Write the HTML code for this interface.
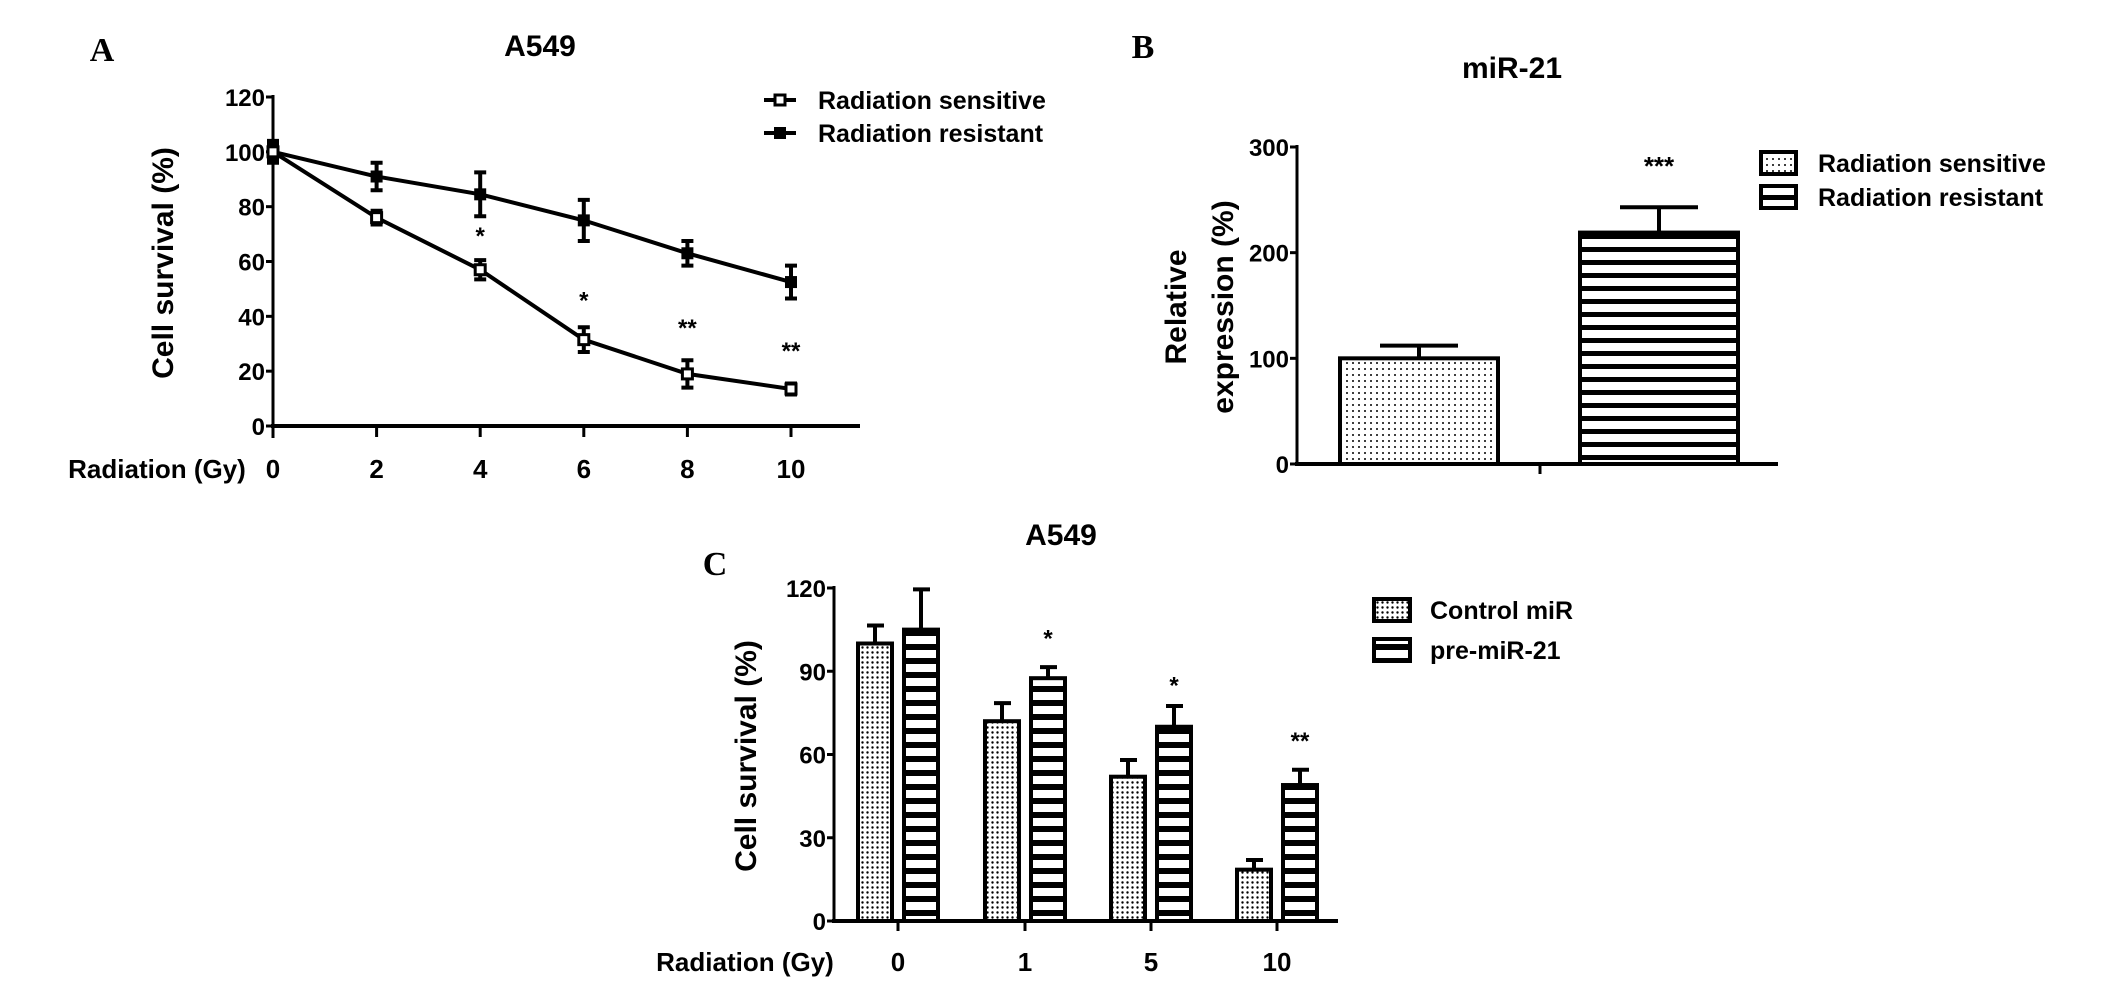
<!DOCTYPE html>
<html><head><meta charset="utf-8"><style>
html,body{margin:0;padding:0;background:#fff;}
svg{display:block;}
text{font-family:"Liberation Sans",sans-serif;font-weight:bold;fill:#000;}
.letter{font-family:"Liberation Serif",serif;font-size:34px;}
</style></head><body>
<svg id="fig" width="2126" height="1006" viewBox="0 0 2126 1006" xmlns="http://www.w3.org/2000/svg">
<defs>
<pattern id="dots" width="6" height="6" patternUnits="userSpaceOnUse"><rect width="6" height="6" fill="#fff"/><circle cx="3" cy="3" r="1" fill="#000"/></pattern>
<pattern id="dots2" width="5" height="5" patternUnits="userSpaceOnUse"><rect width="5" height="5" fill="#fff"/><circle cx="2.5" cy="2.5" r="1.2" fill="#000"/></pattern>
<pattern id="stripes" width="10" height="13" patternUnits="userSpaceOnUse"><rect width="10" height="13" fill="#fff"/><rect y="0" width="10" height="5" fill="#000"/></pattern>
<pattern id="stripes2" width="10" height="14" patternUnits="userSpaceOnUse"><rect width="10" height="14" fill="#fff"/><rect y="0" width="10" height="6" fill="#000"/></pattern>
</defs>
<g id="pa"></g>
<g id="pb"></g>
<g id="pc"></g>
</svg>
<script>
// Panel A data
const aDoses = [0, 2, 4, 6, 8, 10];
const aSensitive = [100, 76, 57, 31.5, 19, 13.5];
const aSensitiveErr = [3, 2.5, 3.5, 4.5, 5, 2];
const aResistant = [100, 91, 84.5, 75, 63, 52.5];
const aResistantErr = [4, 5, 8, 7.5, 4.5, 6];
const aStars = ["", "", "*", "*", "**", "**"];
const aStarY = [0, 0, 71.5, 48, 38, 29.5];
const aYTicks = [0, 20, 40, 60, 80, 100, 120];
// Panel B data
const bGroups = ["Radiation sensitive", "Radiation resistant"];
const bValues = [100, 219];
const bErr = [12, 24];
const bYTicks = [0, 100, 200, 300];
// Panel C data
const cDoses = ["0", "1", "5", "10"];
const cControl = [100, 72, 52, 18.5];
const cControlErr = [6.5, 6.5, 6, 3.5];
const cPre = [105, 87.5, 70, 49];
const cPreErr = [14.5, 4, 7.5, 5.5];
const cStars = ["", "*", "*", "**"];
const cStarY = [0, 104, 87, 67];
const cYTicks = [0, 30, 60, 90, 120];

const NS = "http://www.w3.org/2000/svg";
function mk(parent, tag, attrs, txt){
  const e = document.createElementNS(NS, tag);
  for (const k in attrs) e.setAttribute(k, attrs[k]);
  if (txt !== undefined) e.textContent = txt;
  parent.appendChild(e);
  return e;
}
const SW = 4;

// ---------- Panel A ----------
(function(){
  const g = document.getElementById('pa');
  const x0 = 273, yTop = 97, yBot = 426;
  const xs = d => x0 + d * 51.8;
  const ys = v => yBot - (v / 120) * (yBot - yTop);
  let t = mk(g, 'text', {x: 102, y: 61, 'text-anchor': 'middle', class: 'letter'}, 'A');
   
  t = mk(g, 'text', {x: 540, y: 56, 'text-anchor': 'middle', 'font-size': 30}, 'A549');
   
  let ax = mk(g, 'line', {x1: x0, y1: yTop - 2, x2: x0, y2: yBot + 12, stroke: '#000', 'stroke-width': 3});
   
  ax = mk(g, 'line', {x1: x0 - 2, y1: yBot, x2: 860, y2: yBot, stroke: '#000', 'stroke-width': 4});
   
  aYTicks.forEach(v => {
    mk(g, 'line', {x1: x0 - 7, y1: ys(v), x2: x0, y2: ys(v), stroke: '#000', 'stroke-width': 3});
    const l = mk(g, 'text', {x: x0 - 8, y: ys(v) + 9, 'text-anchor': 'end', 'font-size': 24}, v);
     
  });
  aDoses.forEach(d => {
    mk(g, 'line', {x1: xs(d), y1: yBot, x2: xs(d), y2: yBot + 11, stroke: '#000', 'stroke-width': 3});
    const l = mk(g, 'text', {x: xs(d), y: 478, 'text-anchor': 'middle', 'font-size': 26}, d);
     
  });
  t = mk(g, 'text', {x: 157, y: 478, 'text-anchor': 'middle', 'font-size': 26}, 'Radiation (Gy)');
   
  t = mk(g, 'text', {x: 0, y: 0, 'text-anchor': 'middle', 'font-size': 30, transform: 'translate(173,263) rotate(-90)'}, 'Cell survival (%)');
   
  function series(vals, errs, open, name){
    const s = mk(g, 'g', {});
     
    mk(s, 'polyline', {points: vals.map((v, i) => xs(aDoses[i]) + ',' + ys(v)).join(' '), fill: 'none', stroke: '#000', 'stroke-width': SW});
    vals.forEach((v, i) => {
      const x = xs(aDoses[i]);
      const e = mk(s, 'path', {d: `M${x},${ys(v + errs[i])}V${ys(v - errs[i])}M${x - 6},${ys(v + errs[i])}H${x + 6}M${x - 6},${ys(v - errs[i])}H${x + 6}`, stroke: '#000', 'stroke-width': 4, fill: 'none'});
       
      const m = mk(s, 'rect', open ? {x: x - 5, y: ys(v) - 5, width: 10, height: 10, fill: '#fff', stroke: '#000', 'stroke-width': 3} : {x: x - 6, y: ys(v) - 6, width: 12, height: 12, fill: '#000'});
       
    });
  }
  series(aResistant, aResistantErr, false, 'resistant-series');
  series(aSensitive, aSensitiveErr, true, 'sensitive-series');
  aStars.forEach((s, i) => {
    if (!s) return;
    const l = mk(g, 'text', {x: xs(aDoses[i]), y: ys(aStarY[i]) + 14, 'text-anchor': 'middle', 'font-size': 24}, s);
     
  });
  const lg = mk(g, 'g', {});
   
  mk(lg, 'line', {x1: 764, y1: 100, x2: 796, y2: 100, stroke: '#000', 'stroke-width': 4});
  mk(lg, 'rect', {x: 775, y: 95, width: 10, height: 10, fill: '#fff', stroke: '#000', 'stroke-width': 3});
  mk(lg, 'text', {x: 818, y: 109, 'font-size': 25}, 'Radiation sensitive');
  mk(lg, 'line', {x1: 764, y1: 133, x2: 796, y2: 133, stroke: '#000', 'stroke-width': 4});
  mk(lg, 'rect', {x: 774, y: 127, width: 12, height: 12, fill: '#000'});
  mk(lg, 'text', {x: 818, y: 142, 'font-size': 25}, 'Radiation resistant');
})();

// ---------- Panel B ----------
(function(){
  const g = document.getElementById('pb');
  const x0 = 1297, yTop = 147, yBot = 464;
  const ys = v => yBot - (v / 300) * (yBot - yTop);
  const bx = [1340, 1580], bw = 158;
  const fills = ['url(#dots)', 'url(#stripes)'];
  let t = mk(g, 'text', {x: 1143, y: 58, 'text-anchor': 'middle', class: 'letter'}, 'B');
   
  t = mk(g, 'text', {x: 1512, y: 78, 'text-anchor': 'middle', 'font-size': 30}, 'miR-21');
   
  bValues.forEach((v, i) => {
    const r = mk(g, 'rect', {x: bx[i], y: ys(v), width: bw, height: yBot - ys(v), fill: fills[i], stroke: '#000', 'stroke-width': 4});
     
    const cx = bx[i] + bw / 2;
    const e = mk(g, 'path', {d: `M${cx},${ys(v)}V${ys(v + bErr[i])}M${cx - 39},${ys(v + bErr[i])}H${cx + 39}`, stroke: '#000', 'stroke-width': 4, fill: 'none'});
     
  });
  t = mk(g, 'text', {x: 1659, y: 175, 'text-anchor': 'middle', 'font-size': 26}, '***');
   
  let ax = mk(g, 'line', {x1: x0, y1: yTop - 2, x2: x0, y2: yBot, stroke: '#000', 'stroke-width': 3});
   
  ax = mk(g, 'line', {x1: x0 - 2, y1: yBot, x2: 1778, y2: yBot, stroke: '#000', 'stroke-width': 4});
   
  mk(g, 'line', {x1: 1540, y1: yBot, x2: 1540, y2: 474, stroke: '#000', 'stroke-width': 3});
  bYTicks.forEach(v => {
    mk(g, 'line', {x1: x0 - 7, y1: ys(v), x2: x0, y2: ys(v), stroke: '#000', 'stroke-width': 3});
    const l = mk(g, 'text', {x: x0 - 8, y: ys(v) + 9, 'text-anchor': 'end', 'font-size': 24}, v);
     
  });
  t = mk(g, 'text', {x: 0, y: 0, 'text-anchor': 'middle', 'font-size': 30, transform: 'translate(1186,307) rotate(-90)'}, 'Relative');
   
  t = mk(g, 'text', {x: 0, y: 0, 'text-anchor': 'middle', 'font-size': 30, transform: 'translate(1233,307) rotate(-90)'}, 'expression (%)');
   
  const lg = mk(g, 'g', {});
   
  bGroups.forEach((name, i) => {
    const y = 152 + i * 34;
    mk(lg, 'rect', {x: 1761, y: y, width: 35, height: 22, fill: fills[i], stroke: '#000', 'stroke-width': 4});
    mk(lg, 'text', {x: 1818, y: y + 20, 'font-size': 25}, name);
  });
})();

// ---------- Panel C ----------
(function(){
  const g = document.getElementById('pc');
  const x0 = 834, yTop = 588, yBot = 921;
  const ys = v => yBot - (v / 120) * (yBot - yTop);
  const gx = [898, 1025, 1151, 1277];
  const bw = 34;
  let t = mk(g, 'text', {x: 715, y: 575, 'text-anchor': 'middle', class: 'letter'}, 'C');
   
  t = mk(g, 'text', {x: 1061, y: 545, 'text-anchor': 'middle', 'font-size': 30}, 'A549');
   
  function bars(vals, errs, off, fill, name){
    vals.forEach((v, i) => {
      const x = gx[i] + off - bw / 2;
      const r = mk(g, 'rect', {x: x, y: ys(v), width: bw, height: yBot - ys(v), fill: fill, stroke: '#000', 'stroke-width': 4});
       
      const cx = gx[i] + off;
      const e = mk(g, 'path', {d: `M${cx},${ys(v)}V${ys(v + errs[i])}M${cx - 8},${ys(v + errs[i])}H${cx + 9}`, stroke: '#000', 'stroke-width': 4, fill: 'none'});
       
    });
  }
  bars(cControl, cControlErr, -23, 'url(#dots2)', 'bar-control-mir');
  bars(cPre, cPreErr, 23, 'url(#stripes2)', 'bar-pre-mir-21');
  cStars.forEach((s, i) => {
    if (!s) return;
    const l = mk(g, 'text', {x: gx[i] + 23, y: ys(cStarY[i]) + 14, 'text-anchor': 'middle', 'font-size': 24}, s);
     
  });
  let ax = mk(g, 'line', {x1: x0, y1: yTop - 2, x2: x0, y2: yBot, stroke: '#000', 'stroke-width': 3});
   
  ax = mk(g, 'line', {x1: x0 - 2, y1: yBot, x2: 1338, y2: yBot, stroke: '#000', 'stroke-width': 4});
   
  cYTicks.forEach(v => {
    mk(g, 'line', {x1: x0 - 7, y1: ys(v), x2: x0, y2: ys(v), stroke: '#000', 'stroke-width': 3});
    const l = mk(g, 'text', {x: x0 - 8, y: ys(v) + 9, 'text-anchor': 'end', 'font-size': 24}, v);
     
  });
  cDoses.forEach((d, i) => {
    mk(g, 'line', {x1: gx[i], y1: yBot, x2: gx[i], y2: 931, stroke: '#000', 'stroke-width': 3});
    const l = mk(g, 'text', {x: gx[i], y: 971, 'text-anchor': 'middle', 'font-size': 26}, d);
     
  });
  t = mk(g, 'text', {x: 745, y: 971, 'text-anchor': 'middle', 'font-size': 26}, 'Radiation (Gy)');
   
  t = mk(g, 'text', {x: 0, y: 0, 'text-anchor': 'middle', 'font-size': 30, transform: 'translate(756,756) rotate(-90)'}, 'Cell survival (%)');
   
  const lg = mk(g, 'g', {});
   
  const names = ['Control miR', 'pre-miR-21'], fl = ['url(#dots2)', 'url(#stripes2)'];
  names.forEach((n, i) => {
    const y = 599 + i * 40;
    mk(lg, 'rect', {x: 1374, y: y, width: 36, height: 22, fill: fl[i], stroke: '#000', 'stroke-width': 4});
    mk(lg, 'text', {x: 1430, y: y + 20, 'font-size': 25}, n);
  });
})();
</script>
</body></html>
